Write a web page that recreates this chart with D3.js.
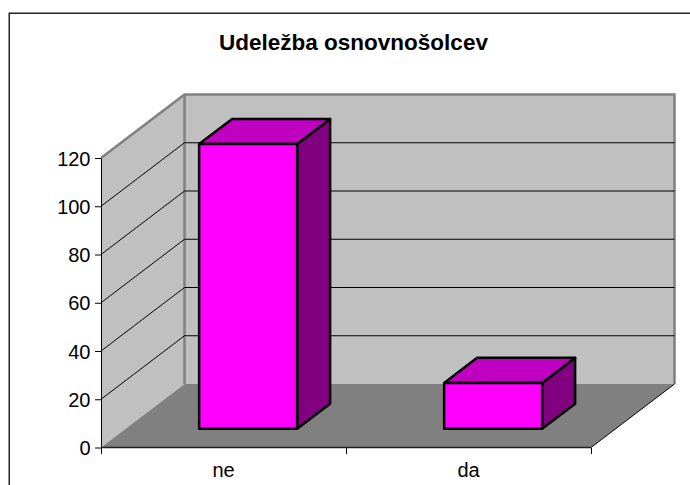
<!DOCTYPE html>
<html><head><meta charset="utf-8">
<script src="https://cdnjs.cloudflare.com/ajax/libs/d3/7.8.5/d3.min.js"></script>
<style>html,body{margin:0;padding:0;background:#fff}svg{display:block}text{font-family:"Liberation Sans",Arial,sans-serif;fill:#000}</style>
</head><body><svg id="c" width="690" height="485"></svg>
<script>
const titleText = "Udeležba osnovnošolcev";
const categories = ["ne", "da"];
const values = [118, 19];
const yTicks = [0, 20, 40, 60, 80, 100, 120];

const svg = d3.select("#c");
const y = d3.scaleLinear().domain([0, 120]).range([447.5, 158]);
const x = d3.scaleBand().domain(categories).range([101, 591]).paddingInner(0.6).paddingOuter(0.3);
const xAxisBand = d3.scaleBand().domain(categories).range([101, 591]);
const depthX = d3.scaleLinear().domain([0, 1]).range([0, 83.5]);
const depthY = d3.scaleLinear().domain([0, 1]).range([0, -63.5]);
const line = d3.line();
const P = (px, py, d) => [px + depthX(d), py + depthY(d)];

// frame
svg.append("rect").attr("x", 9.25).attr("y", 13.25).attr("width", 690).attr("height", 500)
  .attr("fill", "#fff").attr("stroke", "#222").attr("stroke-width", 1.5);

const x0 = 101, x1 = 591, yB = y(0), yT = y(120);
// back wall
svg.append("path").attr("d", line([P(x0,yT,1),P(x1,yT,1),P(x1,yB,1),P(x0,yB,1)])+"Z").attr("fill","#c0c0c0");
// side wall
svg.append("path").attr("d", line([P(x0,yT,0),P(x0,yT,1),P(x0,yB,1),P(x0,yB,0)])+"Z").attr("fill","#c0c0c0");
// floor
svg.append("path").attr("d", line([P(x0,yB,0),P(x1,yB,0),P(x1,yB,1),P(x0,yB,1)])+"Z").attr("fill","#808080");
// wall borders
svg.append("path").attr("d", line([P(x0,yT,0),P(x0,yT,1),P(x1,yT,1),P(x1,yB,1)])).attr("fill","none").attr("stroke","#808080").attr("stroke-width",2.5);
svg.append("path").attr("d", line([P(x0,yT,1),P(x0,yB,1)])).attr("fill","none").attr("stroke","#808080").attr("stroke-width",2.5);
// gridlines
yTicks.filter(t => t > 0 && t < 120).forEach(t => {
  svg.append("path").attr("d", line([P(x0,y(t),0),P(x0,y(t),1),P(x1,y(t),1)])).attr("fill","none").attr("stroke","#000").attr("stroke-width",1);
});
// floor right edge
svg.append("path").attr("d", line([P(x1,yB,0),P(x1,yB,1)])).attr("fill","none").attr("stroke","#000").attr("stroke-width",1);

// bars
const d0 = 0.295, d1 = 0.69;
categories.forEach((c, i) => {
  const l = x(c), r = l + x.bandwidth(), b = y(0), t = y(values[i]);
  const g = svg.append("g").attr("stroke","#000").attr("stroke-width",2.5).attr("stroke-linejoin","round");
  g.append("path").attr("d", line([P(r,b,d0),P(r,b,d1),P(r,t,d1),P(r,t,d0)])+"Z").attr("fill","#800080");
  g.append("path").attr("d", line([P(l,t,d0),P(r,t,d0),P(r,t,d1),P(l,t,d1)])+"Z").attr("fill","#c000c0");
  g.append("path").attr("d", line([P(l,b,d0),P(r,b,d0),P(r,t,d0),P(l,t,d0)])+"Z").attr("fill","#ff00ff");
});

// axes
const axL = svg.append("g").attr("transform","translate(101,0)").call(d3.axisLeft(y).tickValues(yTicks).tickSize(6).tickPadding(4.5).tickSizeOuter(0));
axL.selectAll("line").attr("stroke","#000");
axL.select(".domain").attr("stroke","#000");
axL.selectAll("text").attr("font-size",20).attr("dy","0.36em").style("font-family",'"Liberation Sans",Arial,sans-serif');
svg.append("line").attr("x1",101).attr("x2",591).attr("y1",447.5).attr("y2",447.5).attr("stroke","#222").attr("stroke-width",1.5);
const tickPos = [101, xAxisBand(categories[1]), 591];
tickPos.forEach(px => svg.append("line").attr("x1",Math.round(px)+0.5).attr("x2",Math.round(px)+0.5).attr("y1",448).attr("y2",454).attr("stroke","#000"));
categories.forEach(c => svg.append("text").attr("x", xAxisBand(c)+xAxisBand.bandwidth()/2).attr("y",477).attr("text-anchor","middle").attr("font-size",20).text(c));

svg.append("text").attr("x",353.5).attr("y",50).attr("text-anchor","middle").attr("font-size",22.5).attr("font-weight","bold").text(titleText);
</script></body></html>
